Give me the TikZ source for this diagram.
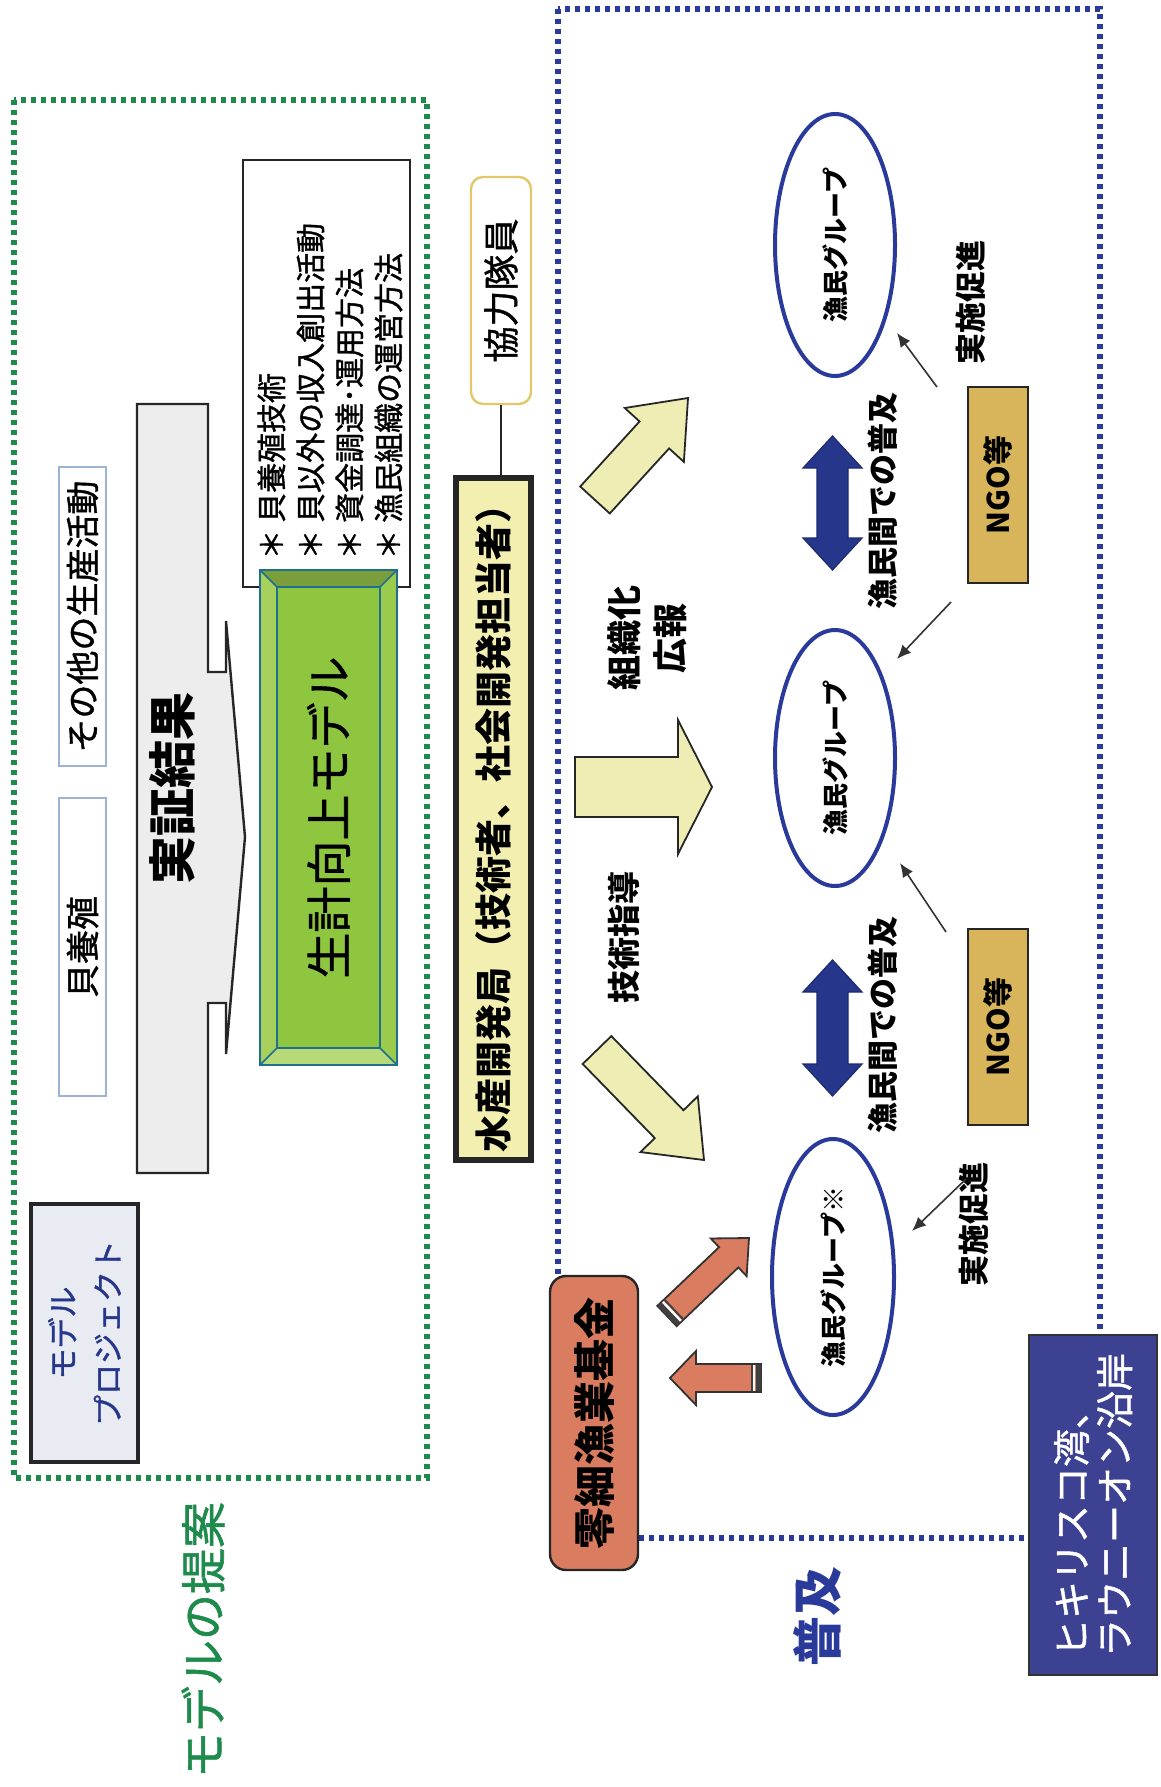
\documentclass[tikz,border=0pt]{standalone}
\usepackage{fontspec}
\setmainfont{Noto Sans CJK JP}
\newfontfamily\jpm[FakeBold=1.2]{Noto Sans CJK JP}
\usetikzlibrary{calc,shapes.geometric,arrows.meta}
\definecolor{dgreen}{HTML}{1E8A4C}
\definecolor{dblue}{HTML}{2A3A9A}
\definecolor{navy}{HTML}{26368A}
\definecolor{palebox}{HTML}{E9EBF2}
\definecolor{lightedge}{HTML}{9DB3D3}
\definecolor{yellowbox}{HTML}{F2EFB0}
\definecolor{yborder}{HTML}{E2C86A}
\definecolor{salmon}{HTML}{D97C5F}
\definecolor{gold}{HTML}{D8B45A}
\definecolor{hbox}{HTML}{3C4291}
\definecolor{parrow}{HTML}{EEEEB4}
\definecolor{teal}{HTML}{1F6F8F}
\definecolor{gface}{HTML}{8EC63F}
\definecolor{gtop}{HTML}{7A9E3C}
\definecolor{gbot}{HTML}{B6DA78}
\definecolor{gleft}{HTML}{A8D05C}
\definecolor{gright}{HTML}{9ACB4C}
\newcommand{\fsz}[2]{\fontsize{#1}{#2}\selectfont}
% block arrow: #1 prefix, #2 tail, #3 tip, #4 shaft half, #5 head half, #6 head length, #7 style
\newcommand{\blockarr}[7]{%
  \coordinate (#1T) at #2;
  \coordinate (#1P) at #3;
  \coordinate (#1J) at ($(#1P)!#6!(#1T)$);
  \draw[#7] ($(#1T)!#4!90:(#1P)$) -- ($(#1J)!#4!90:(#1P)$) -- ($(#1J)!#5!90:(#1P)$) -- (#1P)
     -- ($(#1J)!#5!-90:(#1P)$) -- ($(#1J)!#4!-90:(#1P)$) -- ($(#1T)!#4!-90:(#1P)$) -- cycle;
}
\begin{document}
\begin{tikzpicture}[x=0.5pt,y=-0.5pt,
  yarrow/.style={draw=black!85, line width=0.9pt, fill=parrow},
  sarrow/.style={draw=black!80, line width=0.9pt, fill=salmon},
  thinarr/.style={draw=black!80, line width=0.8pt, -{Latex[length=7pt,width=6pt]}},
  grp/.style={ellipse, draw=dblue, line width=2pt, fill=white, rotate=90, inner sep=0,
              font=\bfseries\fsz{13pt}{15pt}},
  ngo/.style={rectangle, draw=black!85, line width=1pt, fill=gold, rotate=90,
              minimum width=98pt, minimum height=30pt, inner sep=0, font=\bfseries\fsz{15pt}{17pt}},
  lbl/.style={rotate=90, inner sep=0, font=\bfseries\fsz{15.5pt}{18pt}},
  darr/.style={fill=navy, draw=navy!80!black, line width=0.6pt}
]
\useasboundingbox (0,0) rectangle (1161,1787);
\fill[white] (0,0) rectangle (1161,1787);

% frames
\draw[dgreen, line width=2.6pt, dash pattern=on 2.6pt off 2.4pt] (14,100) rectangle (427,1478);
\draw[dblue, line width=2.6pt, dash pattern=on 2.6pt off 2.4pt] (558,9) rectangle (1100,1538);

% model proposal title
\node[rotate=90, text=dgreen, font=\jpm\fsz{23pt}{26pt}, inner sep=0] (teian) at (203,1640) {モデルの提案};

% model project box
\node[rotate=90, draw=black!85, line width=1.6pt, fill=palebox, minimum width=129pt, minimum height=53.5pt,
      inner sep=0, align=center, text=navy, font=\jpm\fsz{15.5pt}{22.5pt}] (mproj) at (84.5,1333) {モデル\\プロジェクト};

% small boxes
\node[rotate=90, draw=lightedge, line width=0.8pt, fill=white, minimum width=149pt, minimum height=23.5pt,
      inner sep=0, font=\jpm\fsz{17pt}{20pt}] (kai) at (82.5,947) {貝養殖};
\node[rotate=90, draw=lightedge, line width=0.8pt, fill=white, minimum width=149.5pt, minimum height=23.5pt,
      inner sep=0, font=\jpm\fsz{17pt}{20pt}] (sonota) at (82.5,616.5) {その他の生産活動};

% jissho kekka arrow-callout
\draw[draw=black!85, line width=1.2pt, fill=black!7]
  (137,404) -- (208,404) -- (208,672) -- (226,672) -- (226,621) -- (245,837) -- (226,1054)
  -- (226,1003) -- (208,1003) -- (208,1173) -- (137,1173) -- cycle;
\node[rotate=90, font=\bfseries\fsz{24pt}{28pt}, inner sep=0] (jissho) at (172.5,788) {実証結果};

% bullet list box
\draw[draw=black!85, line width=1pt, fill=white] (243,160) rectangle (410,587);
\node[rotate=90, anchor=west, align=left, inner sep=0, font=\jpm\fsz{15pt}{19.5pt}] (list) at (330,560)
  {＊ 貝養殖技術\\＊ 貝以外の収入創出活動\\＊ 資金調達･運用方法\\＊ 漁民組織の運営方法};

% green beveled box
\fill[gtop] (260,570) -- (397,570) -- (380,587) -- (277,587) -- cycle;
\fill[gbot] (260,1065) -- (397,1065) -- (380,1048) -- (277,1048) -- cycle;
\fill[gleft] (260,570) -- (277,587) -- (277,1048) -- (260,1065) -- cycle;
\fill[gright] (397,570) -- (380,587) -- (380,1048) -- (397,1065) -- cycle;
\draw[teal, line width=1.1pt] (260,570) rectangle (397,1065);
\draw[teal, line width=0.8pt] (260,570) -- (277,587) (397,570) -- (380,587)
   (260,1065) -- (277,1048) (397,1065) -- (380,1048);
\node[rotate=90, draw=teal, line width=1pt, fill=gface, minimum width=230.5pt, minimum height=51.5pt,
      inner sep=0, font=\jpm\fsz{23pt}{26pt}] (seikei) at (328.5,817.5) {生計向上モデル};

% suisan kaihatsu kyoku & volunteer
\node[rotate=90, draw=black!85, line width=2.6pt, fill=yellowbox, minimum width=341pt, minimum height=37.5pt,
      inner sep=0, font=\bfseries\fsz{18.5pt}{22pt}] (suisan) at (493.5,819) {水産開発局（技術者、社会開発担当者）};
\node[rotate=90, draw=yborder, line width=1.2pt, fill=white, rounded corners=6pt, minimum width=113.5pt,
      minimum height=30pt, inner sep=0, font=\jpm\fsz{18pt}{21pt}] (kyoryoku) at (501,290.5) {協力隊員};
\draw[black!85, line width=1.2pt] (kyoryoku.west) -- (kyoryoku.west |- suisan.east);

% yellow block arrows
\blockarr{ya}{(595,500)}{(688,398)}{10pt}{20pt}{25pt}{yarrow}
\blockarr{yb}{(575,787)}{(712,787)}{15pt}{33.5pt}{17pt}{yarrow}
\blockarr{yc}{(597,1050)}{(704,1160)}{10pt}{20pt}{25pt}{yarrow}
\node[rotate=90, align=center, inner sep=0, font=\bfseries\fsz{17.5pt}{22.8pt}] (soshiki) at (647,638) {組織化\\広報};
\node[rotate=90, inner sep=0, font=\bfseries\fsz{16.5pt}{19pt}] (gijutsu) at (624,937) {技術指導};

% fisher groups
\node[grp, minimum width=131pt, minimum height=60pt] (e1) at (835,245) {漁民グループ};
\node[grp, minimum width=128pt, minimum height=60pt] (e2) at (835,758) {漁民グループ};
\node[grp, minimum width=138pt, minimum height=61pt] (e3) at (833,1277) {漁民グループ※};

% double arrows
\draw[darr] (832.5,436) -- (862,468) -- (848,468) -- (848,538) -- (862,538) -- (832.5,570)
  -- (803,538) -- (817,538) -- (817,468) -- (803,468) -- cycle;
\draw[darr] (832.5,960) -- (862,992) -- (848,992) -- (848,1064) -- (862,1064) -- (832.5,1096)
  -- (803,1064) -- (817,1064) -- (817,992) -- (803,992) -- cycle;
\node[lbl] (fukyu1) at (883,501) {漁民間での普及};
\node[lbl] (fukyu2) at (883,1025) {漁民間での普及};

% NGO boxes
\node[ngo] (ngo1) at (998,485) {NGO等};
\node[ngo] (ngo2) at (998,1027) {NGO等};
\node[lbl] (jisshi1) at (971,302) {実施促進};
\node[lbl] (jisshi2) at (974,1224) {実施促進};

% thin arrows
\coordinate (a1s) at (937,387); \coordinate (a1e) at (897,333);
\coordinate (a2s) at (951,602); \coordinate (a2e) at (897,659);
\coordinate (a3s) at (946,932); \coordinate (a3e) at (900,863);
\coordinate (a4s) at (966,1179); \coordinate (a4e) at (912,1231);
\draw[thinarr] (a1s) -- (a1e);
\draw[thinarr] (a2s) -- (a2e);
\draw[thinarr] (a3s) -- (a3e);
\draw[thinarr] (a4s) -- (a4e);

% small-scale fisheries fund
\node[rotate=90, draw=black!85, line width=1.2pt, fill=salmon, rounded corners=8pt, minimum width=147pt,
      minimum height=44pt, inner sep=0, font=\bfseries\fsz{21pt}{24pt}] (kikin) at (594,1423) {零細漁業基金};
\blockarr{sa}{(667,1316)}{(749,1238)}{7pt}{13pt}{14pt}{sarrow}
\blockarr{sb}{(761,1378)}{(670,1378)}{7pt}{13.5pt}{13pt}{sarrow}
% tail stripes
\foreach \p in {sa,sb}{
  \draw[black!75, line width=2.6pt] ($(\p T)!1.4pt!(\p P)$) coordinate (\p s1)
     ($(\p s1)!6.5pt!90:(\p P)$) -- ($(\p s1)!6.5pt!-90:(\p P)$);
  \draw[white, line width=1.2pt] ($(\p T)!3.4pt!(\p P)$) coordinate (\p s2)
     ($(\p s2)!6.5pt!90:(\p P)$) -- ($(\p s2)!6.5pt!-90:(\p P)$);
  \draw[black!75, line width=1pt] ($(\p T)!4.7pt!(\p P)$) coordinate (\p s3)
     ($(\p s3)!6.5pt!90:(\p P)$) -- ($(\p s3)!6.5pt!-90:(\p P)$);
}

% fukyu title
\node[rotate=90, text=dblue, inner sep=0, font=\bfseries\fsz{25pt}{28pt}] (fukyu) at (817,1616) {普及};

% region box
\node[rotate=90, draw=black!80, line width=1pt, fill=hbox, minimum width=170pt, minimum height=64pt,
      inner sep=0, align=left, text=white, font=\jpm\fsz{19pt}{21.5pt}] (region) at (1093,1505)
      {ヒキリスコ湾、\\ラウニーオン沿岸};
\end{tikzpicture}
\end{document}
